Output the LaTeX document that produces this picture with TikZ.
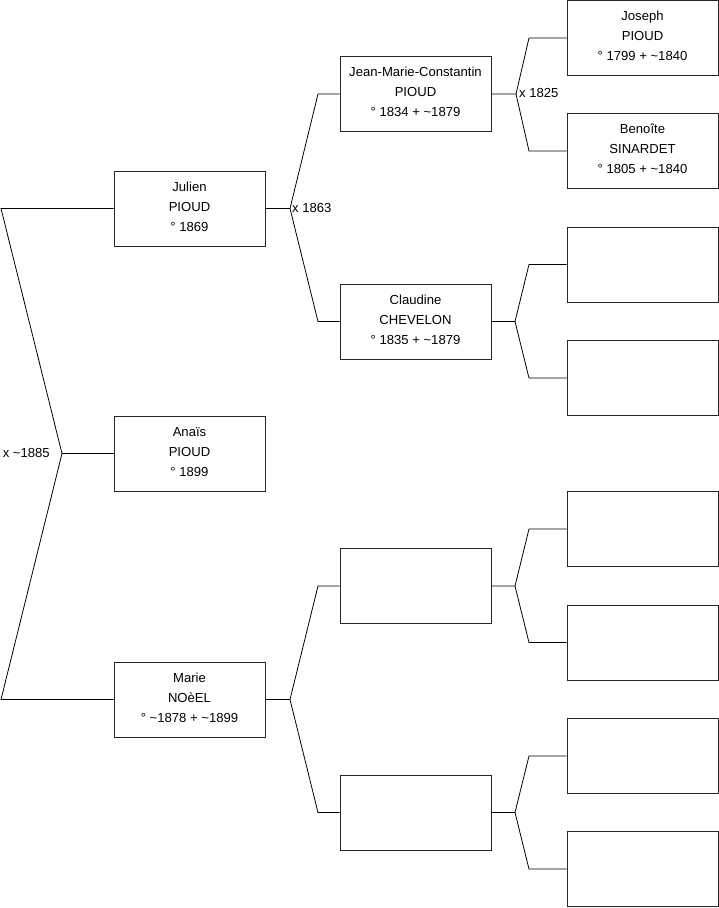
\documentclass[tikz,border=0pt]{standalone}
\usepackage{fontspec}
\setmainfont{Liberation Sans}
\begin{document}
\begin{tikzpicture}[x=1pt,y=-1pt,
  person/.style={draw=black!85, line width=0.9pt, rectangle, minimum width=151pt, minimum height=75pt,
    inner sep=0pt, align=center, text depth=4pt, font=\fontsize{13.1}{20}\selectfont},
  conn/.style={draw=black, line width=0.8pt},
  lbl/.style={font=\fontsize{13.1}{15}\selectfont, inner sep=1pt}]
\useasboundingbox (0,0) rectangle (719,908);
% column 1
\node[person] (julien) at (189.5,208.5) {Julien\\PIOUD\\° 1869};
\node[person] (anais) at (189.5,453.5) {Anaïs\\PIOUD\\° 1899};
\node[person] (marie) at (189.5,699.5) {Marie\\NOèEL\\° \textasciitilde1878 + \textasciitilde1899};
% column 2
\node[person] (jmc) at (415.5,94) {Jean-Marie-Constantin\\PIOUD\\° 1834 + \textasciitilde1879};
\node[person] (claudine) at (415.5,321.5) {Claudine\\CHEVELON\\° 1835 + \textasciitilde1879};
\node[person] (m1) at (415.5,586) {};
\node[person] (m2) at (415.5,812.5) {};
% column 3
\node[person] (joseph) at (642.5,38) {Joseph\\PIOUD\\° 1799 + \textasciitilde1840};
\node[person] (benoite) at (642.5,151) {Benoîte\\SINARDET\\° 1805 + \textasciitilde1840};
\node[person] (c1) at (642.5,264.5) {};
\node[person] (c2) at (642.5,378) {};
\node[person] (d1) at (642.5,529) {};
\node[person] (d2) at (642.5,642.5) {};
\node[person] (e1) at (642.5,756) {};
\node[person] (e2) at (642.5,869) {};
% level-1 fork
\coordinate (a0) at (1,208.5);
\coordinate (a1) at (62,453.5);
\coordinate (a2) at (1,699.5);
\draw[conn] (julien.west) -- (a0) -- (a1) -- (a2) -- (marie.west);
\draw[conn] (a1) -- (anais.west);
\node[lbl, anchor=east] (x1885) at (51,452.5) {x \textasciitilde1885};
% level-2 forks
\coordinate (b0) at (290,208.5);
\coordinate (b1) at (318,94);
\coordinate (b2) at (318,321.5);
\draw[conn] (julien.east) -- (b0) -- (b1) -- (jmc.west);
\draw[conn] (b0) -- (b2) -- (claudine.west);
\node[lbl, anchor=west] (x1863) at (291,207.5) {x 1863};
\coordinate (g0) at (290,699.5);
\coordinate (g1) at (318,586);
\coordinate (g2) at (318,812.5);
\draw[conn] (marie.east) -- (g0) -- (g1) -- (m1.west);
\draw[conn] (g0) -- (g2) -- (m2.west);
% level-3 forks
\coordinate (h0) at (516,94);
\coordinate (h1) at (529,38);
\coordinate (h2) at (529,151);
\draw[conn] (jmc.east) -- (h0) -- (h1) -- (joseph.west);
\draw[conn] (h0) -- (h2) -- (benoite.west);
\node[lbl, anchor=west] (x1825) at (518,93) {x 1825};
\coordinate (i0) at (515,321.5);
\coordinate (i1) at (529,264.5);
\coordinate (i2) at (529,378);
\draw[conn] (claudine.east) -- (i0) -- (i1) -- (c1.west);
\draw[conn] (i0) -- (i2) -- (c2.west);
\coordinate (k0) at (515,586);
\coordinate (k1) at (529,529);
\coordinate (k2) at (529,642.5);
\draw[conn] (m1.east) -- (k0) -- (k1) -- (d1.west);
\draw[conn] (k0) -- (k2) -- (d2.west);
\coordinate (l0) at (515,812.5);
\coordinate (l1) at (529,756);
\coordinate (l2) at (529,869);
\draw[conn] (m2.east) -- (l0) -- (l1) -- (e1.west);
\draw[conn] (l0) -- (l2) -- (e2.west);
\end{tikzpicture}
\end{document}
